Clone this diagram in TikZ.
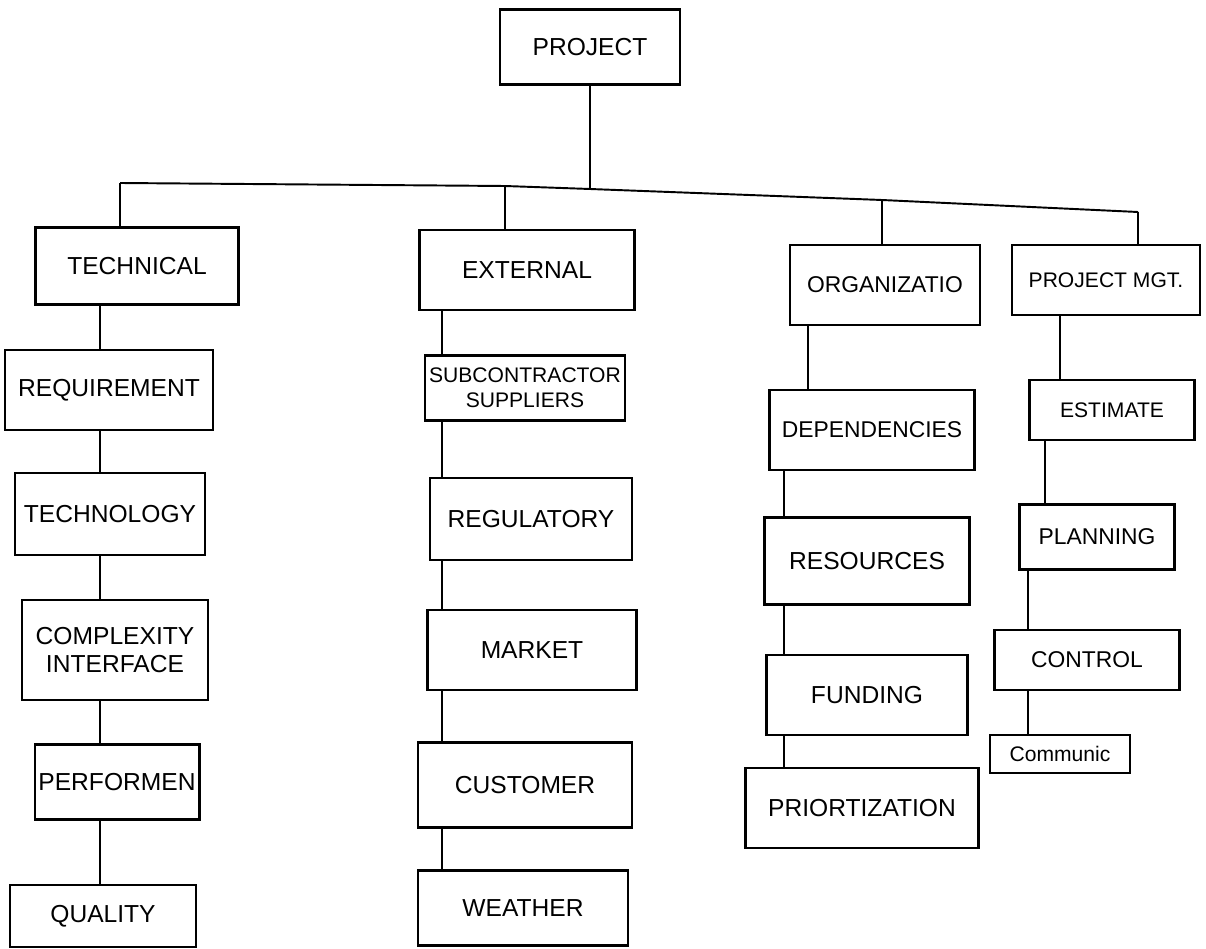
\documentclass[tikz,border=0pt]{standalone}
\usepackage{fontspec}
\setmainfont{Liberation Sans}
\begin{document}
\begin{tikzpicture}[x=0.02cm,y=-0.02cm,
  box/.style={draw, line width=1.6pt, inner sep=2pt, align=center, font=\fontsize{14}{16}\selectfont},
  link/.style={line width=1.1pt}]
\useasboundingbox[fill=white] (0,0) rectangle (1206,949);
% top
\node[box, minimum width=3.6cm, minimum height=1.5cm] (proj) at (590,47) {PROJECT};
% column 1
\node[box, minimum width=4.06cm, minimum height=1.54cm] (tech) at (137,266) {TECHNICAL};
\node[box, minimum width=4.16cm, minimum height=1.6cm] (req) at (109,390) {REQUIREMENT};
\node[box, minimum width=3.8cm, minimum height=1.64cm] (techno) at (110,514) {TECHNOLOGY};
\node[box, minimum width=3.72cm, minimum height=2.0cm] (compl) at (115,650) {COMPLEXITY\\INTERFACE};
\node[box, minimum width=3.1cm, minimum height=1.5cm] (perf) at (117,782) {PERFORMEN};
\node[box, minimum width=3.72cm, minimum height=1.24cm] (qual) at (103,916) {QUALITY};
% column 2
\node[box, minimum width=4.3cm, minimum height=1.6cm] (ext) at (527,270) {EXTERNAL};
\node[box, minimum width=4.0cm, minimum height=1.3cm, font=\fontsize{12}{14}\selectfont] (sub) at (525,388) {SUBCONTRACTOR\\SUPPLIERS};
\node[box, minimum width=4.04cm, minimum height=1.64cm] (reg) at (531,519) {REGULATORY};
\node[box, minimum width=4.18cm, minimum height=1.6cm] (mkt) at (532,650) {MARKET};
\node[box, minimum width=4.28cm, minimum height=1.7cm] (cust) at (525,785) {CUSTOMER};
\node[box, minimum width=4.2cm, minimum height=1.5cm] (wea) at (523,908) {WEATHER};
% column 3
\node[box, minimum width=3.8cm, minimum height=1.6cm, font=\fontsize{13}{15}\selectfont] (org) at (885,285) {ORGANIZATIO};
\node[box, minimum width=4.1cm, minimum height=1.6cm, font=\fontsize{13}{15}\selectfont] (dep) at (872,430) {DEPENDENCIES};
\node[box, minimum width=4.1cm, minimum height=1.74cm] (res) at (867,561) {RESOURCES};
\node[box, minimum width=4.02cm, minimum height=1.6cm] (fund) at (867,695) {FUNDING};
\node[box, minimum width=4.66cm, minimum height=1.6cm] (prio) at (862,808) {PRIORTIZATION};
% column 4
\node[box, minimum width=3.76cm, minimum height=1.4cm, font=\fontsize{12}{14}\selectfont] (pm) at (1106,280) {PROJECT MGT.};
\node[box, minimum width=3.3cm, minimum height=1.2cm, font=\fontsize{12}{14}\selectfont] (est) at (1112,410) {ESTIMATE};
\node[box, minimum width=3.1cm, minimum height=1.3cm, font=\fontsize{13}{15}\selectfont] (plan) at (1097,537) {PLANNING};
\node[box, minimum width=3.7cm, minimum height=1.2cm, font=\fontsize{13}{15}\selectfont] (ctrl) at (1087,660) {CONTROL};
\node[box, minimum width=2.8cm, minimum height=0.76cm, font=\fontsize{12}{14}\selectfont] (comm) at (1060,754) {Communic};
% bus
\coordinate (bL) at (120,183);
\coordinate (b2) at (505,186);
\coordinate (bP) at (590,189);
\coordinate (b3) at (882,200);
\coordinate (bR) at (1138,212);
\draw[link] (bL) -- (b2) -- (bP) -- (b3) -- (bR);
\draw[link] (proj.south) -- (bP);
\draw[link] (bL) -- (tech.north -| bL);
\draw[link] (b2) -- (ext.north -| b2);
\draw[link] (b3) -- (org.north -| b3);
\draw[link] (bR) -- (pm.north -| bR);
% column links
\coordinate (k1) at (100,0);
\coordinate (k2) at (442,0);
\coordinate (k3a) at (808,0);
\coordinate (k3b) at (784,0);
\coordinate (k4a) at (1060,0);
\coordinate (k4b) at (1045,0);
\coordinate (k4c) at (1028,0);
\draw[link] (tech.south -| k1) -- (req.north -| k1);
\draw[link] (req.south -| k1) -- (techno.north -| k1);
\draw[link] (techno.south -| k1) -- (compl.north -| k1);
\draw[link] (compl.south -| k1) -- (perf.north -| k1);
\draw[link] (perf.south -| k1) -- (qual.north -| k1);
\draw[link] (ext.south -| k2) -- (sub.north -| k2);
\draw[link] (sub.south -| k2) -- (reg.north -| k2);
\draw[link] (reg.south -| k2) -- (mkt.north -| k2);
\draw[link] (mkt.south -| k2) -- (cust.north -| k2);
\draw[link] (cust.south -| k2) -- (wea.north -| k2);
\draw[link] (org.south -| k3a) -- (dep.north -| k3a);
\draw[link] (dep.south -| k3b) -- (res.north -| k3b);
\draw[link] (res.south -| k3b) -- (fund.north -| k3b);
\draw[link] (fund.south -| k3b) -- (prio.north -| k3b);
\draw[link] (pm.south -| k4a) -- (est.north -| k4a);
\draw[link] (est.south -| k4b) -- (plan.north -| k4b);
\draw[link] (plan.south -| k4c) -- (ctrl.north -| k4c);
\draw[link] (ctrl.south -| k4c) -- (comm.north -| k4c);
\end{tikzpicture}
\end{document}
